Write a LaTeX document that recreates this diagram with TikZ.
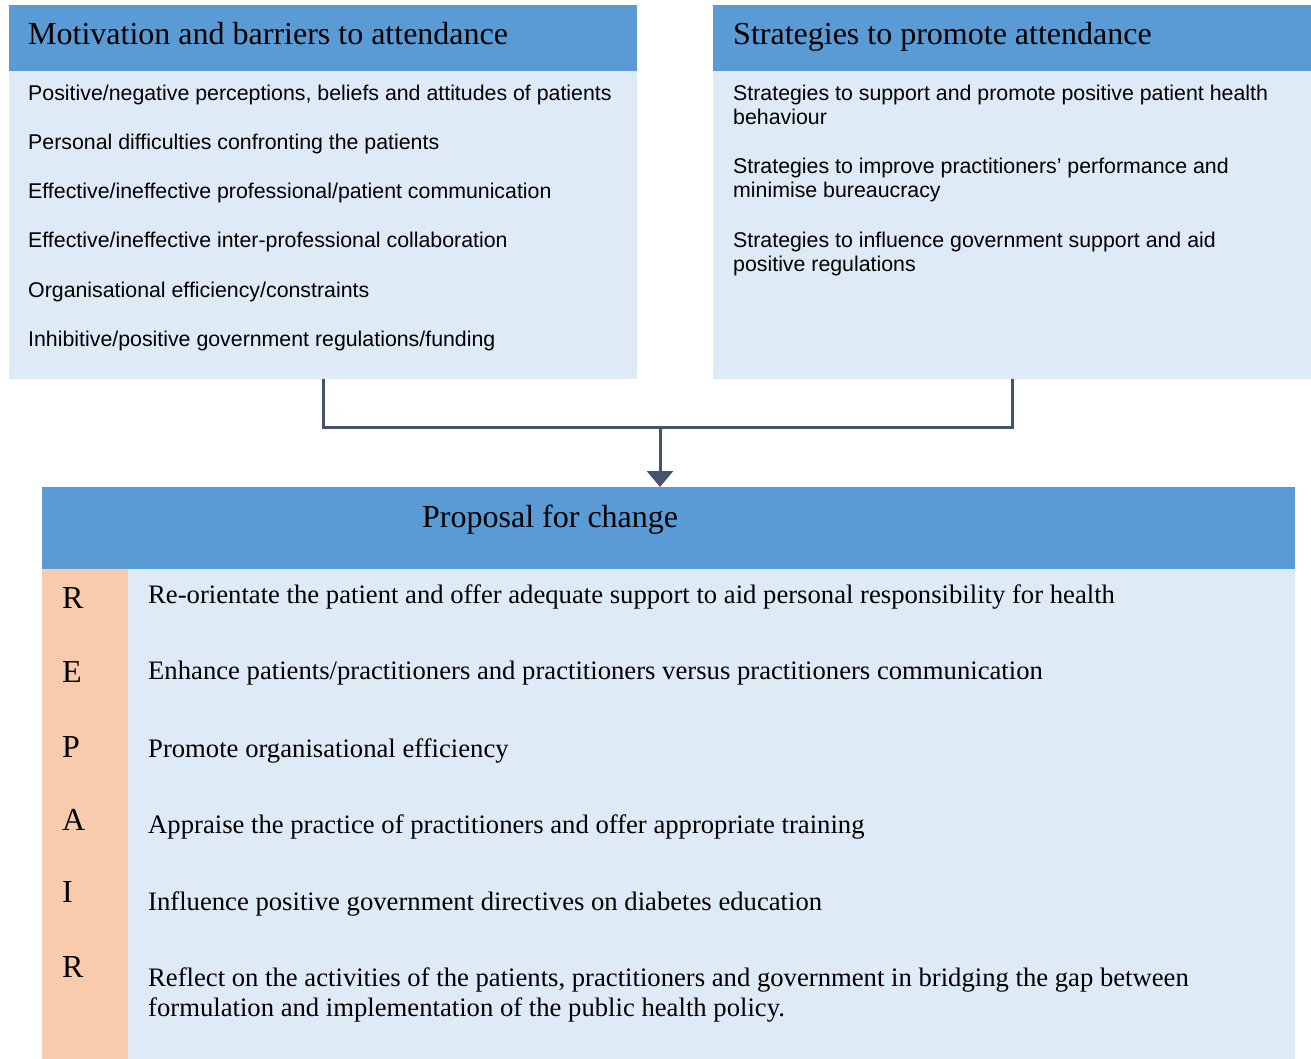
\documentclass[tikz,border=0pt]{standalone}
\usepackage{fontspec}
\setmainfont{Liberation Serif}
\newfontfamily\arialf{Liberation Sans}
\usetikzlibrary{arrows.meta}
\definecolor{hblue}{HTML}{5B9BD5}
\definecolor{lblue}{HTML}{DEEAF6}
\definecolor{orng}{HTML}{F8CBAD}
\definecolor{slate}{HTML}{44546A}
\tikzset{
  boxpart/.style={draw=none,inner sep=0,outer sep=0,anchor=north west},
  title/.style={inner sep=0,anchor=base west,font=\fontsize{32}{36}\selectfont},
  sitem/.style={inner sep=0,anchor=base west,align=left,font=\arialf\fontsize{21.33}{24.3}\selectfont},
  titem/.style={inner sep=0,anchor=base west,align=left,font=\fontsize{26.67}{29.3}\selectfont},
  letter/.style={inner sep=0,anchor=base west,font=\fontsize{32}{36}\selectfont},
  conn/.style={draw=slate,line width=3pt}
}
\begin{document}
\begin{tikzpicture}[x=1pt,y=-1pt]
\useasboundingbox (0,0) rectangle (1311,1059);
% left box
\node[boxpart,fill=hblue,minimum width=628pt,minimum height=66pt] (lh) at (9,5) {};
\node[boxpart,fill=lblue,minimum width=628pt,minimum height=308pt] (lb) at (9,71) {};
% right box
\node[boxpart,fill=hblue,minimum width=598pt,minimum height=66pt] (rh) at (713,5) {};
\node[boxpart,fill=lblue,minimum width=598pt,minimum height=308pt] (rb) at (713,71) {};
% bottom box
\node[boxpart,fill=hblue,minimum width=1253pt,minimum height=82pt] (bh) at (42,487) {};
\node[boxpart,fill=lblue,minimum width=1253pt,minimum height=490pt] (bb) at (42,569) {};
\node[boxpart,fill=orng,minimum width=86pt,minimum height=490pt] (oc) at (42,569) {};
% titles
\node[title] (t1) at (28,45) {Motivation and barriers to attendance};
\node[title] (t2) at (733,45) {Strategies to promote attendance};
\node[title] (t3) at (422,527) {Proposal for change};
% left items
\node[sitem] (l1) at (28,101) {Positive/negative perceptions, beliefs and attitudes of patients};
\node[sitem] (l2) at (28,149.5) {Personal difficulties confronting the patients};
\node[sitem] (l3) at (28,198.5) {Effective/ineffective professional/patient communication};
\node[sitem] (l4) at (28,247.5) {Effective/ineffective inter-professional collaboration};
\node[sitem] (l5) at (28,297) {Organisational efficiency/constraints};
\node[sitem] (l6) at (28,346) {Inhibitive/positive government regulations/funding};
% right items (base anchor = baseline of last line)
\node[sitem] (r1) at (733,125) {Strategies to support and promote positive patient health\\behaviour};
\node[sitem] (r2) at (733,198) {Strategies to improve practitioners’ performance and\\minimise bureaucracy};
\node[sitem] (r3) at (733,272) {Strategies to influence government support and aid\\positive regulations};
% letters
\node[letter] (kR1) at (62,608) {R};
\node[letter] (kE) at (62,682) {E};
\node[letter] (kP) at (62,757) {P};
\node[letter] (kA) at (62,830) {A};
\node[letter] (kI) at (62,902) {I};
\node[letter] (kR2) at (62,977) {R};
% proposal items
\node[titem] (p1) at (148,603) {Re-orientate the patient and offer adequate support to aid personal responsibility for health};
\node[titem] (p2) at (148,679) {Enhance patients/practitioners and practitioners versus practitioners communication};
\node[titem] (p3) at (148,757) {Promote organisational efficiency};
\node[titem] (p4) at (148,833) {Appraise the practice of practitioners and offer appropriate training};
\node[titem] (p5) at (148,910) {Influence positive government directives on diabetes education};
\node[titem] (p6) at (148,1016) {Reflect on the activities of the patients, practitioners and government in bridging the gap between\\formulation and implementation of the public health policy.};
% connectors
\coordinate (j) at (660,427);
\draw[conn] (lb.south) -- (lb.south |- j) -- (rb.south |- j) -- (rb.south);
\draw[conn,-{Triangle[width=26pt,length=16pt]}] (j) -- (j |- bh.north);
\end{tikzpicture}
\end{document}
